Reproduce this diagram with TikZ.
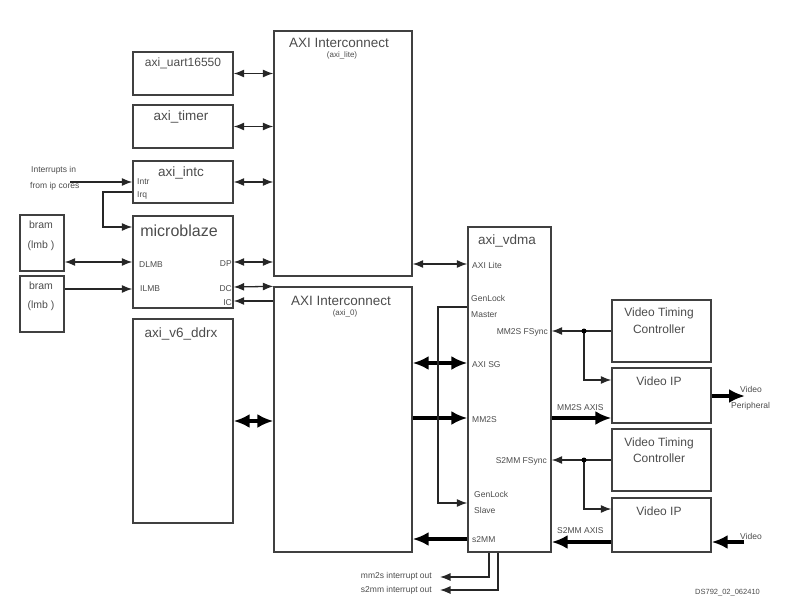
\documentclass[tikz,border=0pt]{standalone}
\usepackage{fontspec}
\setmainfont{Liberation Sans}
\usetikzlibrary{arrows.meta}

\tikzset{
    blk/.style={draw=black!75, line width=1.3pt, inner sep=0pt},
    ttl/.style={anchor=base, text=black!70, inner sep=0pt,
        font=\fontsize{13.5}{15}\selectfont},
    port/.style={text=black!70, inner sep=0pt,
        font=\fontsize{8.5}{10}\selectfont},
    sig/.style={draw=black!85, line width=1.3pt,
        -{Latex[length=10.5pt,width=8pt]}},
    sigdbl/.style={draw=black!85, line width=1.3pt,
        {Latex[length=10.5pt,width=8pt]}-{Latex[length=10.5pt,width=8pt]}},
    bus/.style={draw=black, line width=4pt,
        -{Latex[length=16pt,width=14pt]}},
    busdbl/.style={draw=black, line width=4pt,
        {Latex[length=16pt,width=14pt]}-{Latex[length=16pt,width=14pt]}}
}

\begin{document}
\begin{tikzpicture}[
    x=1pt, y=-1pt,
    line join=miter
]
\useasboundingbox (0,0) rectangle (791,612);

% Blocchi
\foreach \n/\x/\y/\w/\h in {
    uart/183/73.5/100/43,
    timer/183/126.5/100/43,
    intc/183/182/100/42,
    mb/183/262/100/92,
    ddr/183/421/100/204,
    brama/42/243/44/56,
    bramb/42/304/44/56,
    axilite/343/153.5/138/245,
    axizero/343/419.5/138/265,
    vdma/509.5/389.5/83/325,
    vtca/661.5/331/99/62,
    vipa/661.5/395.5/99/55,
    vtcb/661.5/460/99/62,
    vipb/661.5/525/99/54
}{
    \node[blk, minimum width=\w pt, minimum height=\h pt] (\n) at (\x,\y) {};
}

% Titoli
\node[ttl, font=\fontsize{12}{14}\selectfont] at (183,67) {axi\_uart16550};
\node[ttl] at (181,121) {axi\_timer};
\node[ttl] at (181,177) {axi\_intc};
\node[ttl, font=\fontsize{16}{18}\selectfont] at (179,236) {microblaze};
\node[ttl] at (181,337) {axi\_v6\_ddrx};
\node[ttl] at (339,48) {AXI Interconnect};
\node[ttl, font=\fontsize{8}{9}\selectfont] at (342,58) {(axi\_lite)};
\node[ttl] at (341,305) {AXI Interconnect};
\node[ttl, font=\fontsize{8}{9}\selectfont] at (345,315) {(axi\_0)};
\node[ttl] at (507,244) {axi\_vdma};
\foreach \y/\t in {228/bram, 248/(lmb ), 289/bram, 308/(lmb )}{
    \node[ttl, font=\fontsize{10.5}{12}\selectfont] at (41,\y) {\t};
}
\foreach \y/\t in {316/Video Timing, 333/Controller, 385/Video IP,
    446/Video Timing, 462/Controller, 515/Video IP}{
    \node[ttl, font=\fontsize{12}{14}\selectfont] at (659,\y) {\t};
}

% Etichette delle porte
\foreach \x/\y/\t in {
    137/185/Intr, 137/197/Irq, 139/267/DLMB, 140/291/ILMB,
    472/268/AXI Lite, 471/301/GenLock, 471/317/Master,
    472/367/AXI SG, 472/422/MM2S, 474/497/GenLock, 474/513/Slave,
    472/542/s2MM, 557/410/MM2S AXIS, 557/533/S2MM AXIS,
    31/173/Interrupts in, 30/189/from ip cores,
    740/392/Video, 731/408/Peripheral, 740/539/Video
}{
    \node[port, anchor=base west] at (\x,\y) {\t};
}
\foreach \x/\y/\t in {
    232/266/DP, 232/291/DC, 232/305/IC,
    548/334/MM2S FSync, 547/463/S2MM FSync,
    432/578/mm2s interrupt out, 432/592/s2mm interrupt out
}{
    \node[port, anchor=base east] at (\x,\y) {\t};
}
\node[port, anchor=base west, font=\fontsize{7.5}{9}\selectfont]
    at (695,594) {DS792\_02\_062410};

% Periferiche - AXI Interconnect (axi_lite)
\draw[sigdbl] (uart.east) -- (uart.east -| axilite.west);
\draw[sigdbl] (timer.east) -- (timer.east -| axilite.west);
\draw[sigdbl] (intc.east) -- (intc.east -| axilite.west);

% Interrupt
\coordinate (irqin) at (70,182);
\draw[sig] (irqin) -- (intc.west);
\draw[sig] (intc.west |- 0,192) -| (103,227) -- (mb.west |- 0,227);

% LMB
\draw[sigdbl] (brama.east |- 0,262) -- (mb.west |- 0,262);
\draw[sig] (bramb.east |- 0,289) -- (mb.west |- 0,289);

% microblaze - interconnect
\draw[sigdbl] (mb.east |- 0,262) -- (axilite.west |- 0,262);
\draw[sigdbl] (mb.east |- 0,287) -- (axizero.north west);
\draw[sig] (axizero.west |- 0,301) -- (mb.east |- 0,301);
\draw[busdbl] (ddr.east) -- (ddr.east -| axizero.west);

% axi_vdma
\draw[sigdbl] (axilite.east |- 0,264) -- (vdma.west |- 0,264);
\draw[busdbl] (axizero.east |- 0,363) -- (vdma.west |- 0,363);
\draw[bus] (axizero.east |- 0,418) -- (vdma.west |- 0,418);
\draw[bus] (vdma.west |- 0,539) -- (axizero.east |- 0,539);
\draw[sig] (vdma.west |- 0,307) -| (438,503) -- (vdma.west |- 0,503);

% Video, lato MM2S
\coordinate (fsa) at (584,331);
\draw[sig] (vtca.west) -- (vtca.west -| vdma.east);
\draw[sig] (fsa) |- (vipa.west |- 0,380);
\fill (fsa) circle (2.5pt);
\draw[bus] (vdma.east |- 0,418) -- (vipa.west |- 0,418);
\coordinate (vidout) at (745,396);
\draw[bus] (vipa.east |- vidout) -- (vidout);

% Video, lato S2MM
\coordinate (fsb) at (584,460);
\draw[sig] (vtcb.west) -- (vtcb.west -| vdma.east);
\draw[sig] (fsb) |- (vipb.west |- 0,509);
\fill (fsb) circle (2.5pt);
\draw[bus] (vipb.west |- 0,542) -- (vdma.east |- 0,542);
\coordinate (vidin) at (744,542);
\draw[bus] (vidin) -- (vipb.east |- vidin);

% Interrupt in uscita
\draw[sig] (vdma.south -| 489,0) |- (440,577);
\draw[sig] (vdma.south -| 498,0) |- (440,590);

\end{tikzpicture}
\end{document}
